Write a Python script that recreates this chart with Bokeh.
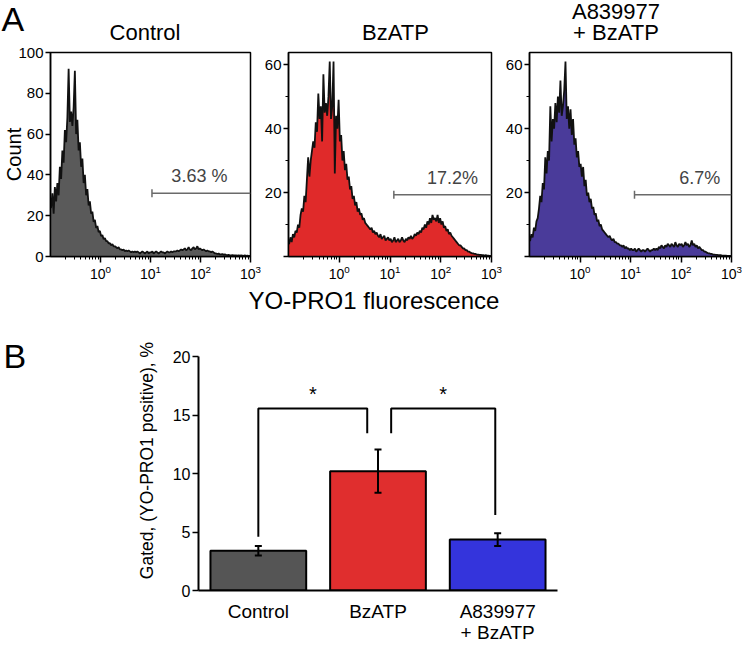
import numpy as np
from bokeh.plotting import figure
from bokeh.layouts import column, row
from bokeh.models import (Range1d, FixedTicker, LogTickFormatter, Label, Whisker,
                          TeeHead, ColumnDataSource)
from bokeh.embed import file_html
from bokeh.resources import INLINE

FONT = "Liberation Sans"

# ---------------- data: panel A (flow cytometry histograms) ----------------
hist_log_start = -1.0     # log10 of first channel edge
hist_log_step = 0.025     # log10 width of one channel

control_counts = [
    24, 31, 21, 34, 27, 36, 30, 44, 38, 52, 46, 62, 56, 68, 92, 66, 71, 64, 73, 91,
    60, 67, 52, 56, 44, 48, 36, 40, 30, 33, 25, 27, 21, 22, 17, 18, 14, 15, 12, 12.5,
    10, 10.5, 8.5, 9, 7.5, 7.5, 6.5, 6.5, 5.5, 6, 5, 5, 4.5, 4, 4.5, 3.5, 3.5, 3, 3.5, 2.5,
    3, 2.5, 3, 2.5, 2, 2.5, 2, 2.5, 2, 2.5, 2, 1.5, 2, 2.5, 2, 1.5, 2, 2.5, 1.5, 2,
    2, 2.5, 1.5, 2, 2.5, 2, 1.5, 2, 2.5, 2, 2, 1.5, 2, 2.5, 2, 2, 2.5, 2, 2.5, 2.5,
    2.5, 3, 2.5, 3, 3.5, 3, 3.5, 4, 3, 3.5, 4.5, 3.5, 3, 4, 4.5, 3.5, 4, 5, 3.5, 4,
    3.5, 3, 3.5, 3, 2.5, 3, 2.5, 2.5, 2, 2.5, 2, 1.5, 1.5, 1.2, 1.5, 1, 1, 1.2, 0.8, 1,
    0.8, 0.7, 0.8, 0.6, 0.6, 0.7, 0.5, 0.6, 0.5, 0.4, 0.6, 0.4, 0.5, 0.4, 0.3, 0.5, 0.3, 0.4, 0.3, 0.3,
]
bzatp_counts = [
    4, 6, 4.5, 7, 6, 8, 7.5, 10, 9, 13, 15, 14, 19, 17, 24, 31, 25, 30, 33, 36,
    34, 42, 39, 51, 43, 47, 36, 57, 45, 48, 44, 50, 61, 43, 47, 61, 26, 44, 40, 49,
    36, 38, 30, 33, 27, 29, 24, 25, 21, 22, 18, 19, 16, 17, 14, 15, 13, 13.5, 11.5, 12,
    10.5, 10, 9.5, 9, 8.5, 9, 7.5, 8, 7, 7.5, 6.5, 6, 7, 5.5, 6, 6.5, 5, 5.5, 6, 5,
    5.5, 4.5, 5, 6, 4.5, 5, 5.5, 4.5, 5, 6, 5, 4.5, 5.5, 5, 6, 5.5, 6.5, 5.5, 6, 7,
    6.5, 7.5, 7, 8, 7.5, 9, 8.5, 10, 9, 11, 10, 12, 10.5, 13, 11.5, 12, 11, 13, 10.5, 12,
    10, 11, 9, 9.5, 8, 8.5, 7, 7.5, 6.5, 6, 5.5, 5, 4.5, 4, 3.5, 3.5, 3, 2.5, 2.5, 2,
    2, 1.5, 1.5, 1.2, 1, 1, 0.8, 0.8, 0.6, 0.6, 0.5, 0.5, 0.4, 0.4, 0.3, 0.4, 0.3, 0.3, 0.2, 0.2,
]
a8_counts = [
    5, 7, 6, 9, 8, 11, 12, 15, 19, 17, 23, 21, 31, 26, 33, 30, 47, 36, 43, 40,
    48, 42, 50, 45, 55, 44, 47, 52, 61, 43, 47, 40, 46, 38, 43, 35, 37, 31, 33, 28,
    29, 25, 28, 22, 24, 19, 20, 17, 18, 15, 15.5, 13, 13.5, 11, 11.5, 9.5, 10, 8.5, 8, 7.5,
    7, 6.5, 6, 6.5, 5.5, 5, 5.5, 4.5, 4.5, 4, 4, 3.5, 3.5, 3, 3.5, 2.5, 3, 2.5, 2.5, 2,
    2.5, 2, 2, 2.5, 1.5, 2, 2.5, 2, 1.5, 2, 2, 1.5, 2, 2.5, 2, 1.5, 2, 2, 2.5, 2,
    2.5, 2, 3, 2.5, 3.5, 3, 2.5, 3.5, 3, 4, 3.5, 3, 4, 3.5, 3, 4.5, 3.5, 3, 4, 3.5,
    4, 3, 3.5, 4.5, 3.5, 4, 3, 3.5, 5, 3.5, 4, 3, 3.5, 2.5, 3, 2.5, 2, 2, 1.5, 1.5,
    1.2, 1, 1, 0.8, 0.8, 0.6, 0.6, 0.5, 0.5, 0.4, 0.4, 0.4, 0.3, 0.3, 0.3, 0.3, 0.2, 0.2, 0.2, 0.2,
]

panel_titles = [["Control"], ["BzATP"], ["A839977", "+ BzATP"]]
panel_colors = ["#5a5a5a", "#e02a2a", "#4a3b9a"]
count_max = [100, 63.8, 63.8]
count_ticks = [[0, 20, 40, 60, 80, 100], [0, 20, 40, 60], [0, 20, 40, 60]]
count_minor = [[], [10, 30, 50], [10, 30, 50]]
gate_start = [10.7, 11.9, 12.0]
gate_end = 1000
gate_level = [31, 19.3, 19.3]
gate_text = ["3.63 %", "17.2%", "6.7%"]
gate_text_x = [95, 170, 234]
log_major = [1, 10, 100, 1000]
log_minor = [k * 10.0 ** e for e in (-1, 0, 1, 2) for k in range(2, 10)]

# ---------------- data: panel B (bar chart) ----------------
groups = ["Control", "BzATP", "A839977\n+ BzATP"]
gated_mean = [3.4, 10.2, 4.35]
gated_err = [0.4, 1.85, 0.55]
bar_colors = ["#555555", "#e02e2e", "#3434dc"]
bracket_xs = [[0.5, 0.5, 1.41, 1.41], [1.61, 1.61, 2.48, 2.48]]
bracket_ys = [[4.6, 15.55, 15.55, 13.45], [13.45, 15.55, 15.55, 6.45]]
bracket_star_x = [0.955, 2.045]

BASE_SHIFT = 0.44  # measured offset (in em) of the rendered baseline below the anchor


def lab(p, x, y, text, size, xo=0, yo=0, align="left", angle=0.0, color="black"):
    if angle == 0.0:
        yo = yo + BASE_SHIFT * size
    else:
        xo = xo - BASE_SHIFT * size
    p.add_layout(Label(x=x, y=y, x_offset=xo, y_offset=yo, text=text,
                       text_font=FONT, text_font_size=f"{size}px", text_color=color,
                       text_align=align, text_baseline="alphabetic", angle=angle))


def text_fig(w, h):
    p = figure(width=w, height=h, x_range=Range1d(0, w), y_range=Range1d(0, h),
               x_axis_location=None, y_axis_location=None, toolbar_location=None,
               output_backend="svg", min_border=0)
    p.xgrid.visible = False
    p.ygrid.visible = False
    p.outline_line_color = None
    p.background_fill_color = "white"
    p.border_fill_color = "white"
    return p


def hist_fig(i, counts, width, bl, br):
    p = figure(width=width, height=237, x_axis_type="log",
               x_range=Range1d(0.1, 1000), y_range=Range1d(0, count_max[i]),
               toolbar_location=None, output_backend="svg",
               min_border_left=bl, min_border_right=br,
               min_border_top=7, min_border_bottom=26)
    p.xgrid.visible = False
    p.ygrid.visible = False
    p.outline_line_color = "black"
    p.outline_line_width = 1.5
    p.outline_line_alpha = 1.0
    p.background_fill_color = "white"
    p.border_fill_color = "white"

    n = len(counts)
    centers = 10 ** (hist_log_start + hist_log_step * (np.arange(n) + 0.5))
    xs = np.concatenate([[10 ** hist_log_start], centers,
                         [10 ** (hist_log_start + hist_log_step * n)]])
    ys = np.concatenate([[counts[0]], counts, [counts[-1]]])
    p.varea(x=xs, y1=0, y2=ys, fill_color=panel_colors[i])
    p.line(xs, ys, line_color="#111111", line_width=1.8)

    # gate marker
    p.line([gate_start[i], gate_end], [gate_level[i], gate_level[i]],
           line_color="#6a6a6a", line_width=1.5)
    p.scatter([gate_start[i]], [gate_level[i]], marker="dash", angle=np.pi / 2,
              size=8, line_color="#6a6a6a", line_width=1.5)
    lab(p, gate_text_x[i], gate_level[i], gate_text[i], 18, yo=9,
        align="center", color="#444444")

    xa = p.xaxis[0]
    xa.ticker = FixedTicker(ticks=log_major, minor_ticks=log_minor)
    xa.formatter = LogTickFormatter()
    xa.major_tick_out = 6
    xa.major_tick_in = 0
    xa.minor_tick_out = 3
    xa.minor_tick_in = 0
    xa.axis_line_width = 1.5
    xa.major_tick_line_width = 1.5
    xa.minor_tick_line_width = 1
    xa.major_label_standoff = 2
    xa.major_label_text_font = FONT
    xa.major_label_text_font_size = "14px"
    xa.major_label_text_color = "black"

    ya = p.yaxis[0]
    ya.ticker = FixedTicker(ticks=count_ticks[i], minor_ticks=count_minor[i])
    if i > 0:
        ya.major_label_overrides = {0: ""}
    ya.major_tick_out = 5
    ya.major_tick_in = 0
    ya.minor_tick_out = 3
    ya.minor_tick_in = 0
    ya.axis_line_width = 1.5
    ya.major_tick_line_width = 1.5
    ya.major_label_standoff = 2
    ya.major_label_text_font = FONT
    ya.major_label_text_font_size = "15px"
    ya.major_label_text_color = "black"
    return p


# ---------------- panel A ----------------
top = text_fig(742, 45)
lab(top, 1, 11.5, "A", 34)
lab(top, 144.5, 3.5, panel_titles[0][0], 22, align="center")
lab(top, 395, 3.5, panel_titles[1][0], 22, align="center")
lab(top, 615.5, 24, panel_titles[2][0], 22, align="center")
lab(top, 615.5, 3.5, panel_titles[2][1], 22, align="center")

f1 = hist_fig(0, control_counts, 261, 48, 11)
f2 = hist_fig(1, bzatp_counts, 241, 25, 11)
f3 = hist_fig(2, a8_counts, 240, 25, 11)
f1.yaxis[0].axis_label = "Count"
f1.yaxis[0].axis_label_text_font = FONT
f1.yaxis[0].axis_label_text_font_size = "20px"
f1.yaxis[0].axis_label_text_font_style = "normal"
f1.yaxis[0].axis_label_text_color = "black"
f1.yaxis[0].axis_label_standoff = -10

mid = text_fig(742, 40)
lab(mid, 373.5, 11, "YO-PRO1 fluorescence", 24, align="center")

# ---------------- panel B ----------------
side = text_fig(165, 323)
lab(side, 3, 275, "B", 34)
lab(side, 154.5, 185, "Gated, (YO-PRO1 positive), %", 17.5, align="center",
    angle=np.pi / 2)

bar_x = [k + 0.5 for k in range(len(groups))]
pB = figure(width=577, height=323, x_range=Range1d(0, 3), y_range=Range1d(0, 20),
            toolbar_location=None, output_backend="svg",
            min_border_left=33, min_border_right=185,
            min_border_top=34, min_border_bottom=54)
pB.xgrid.visible = False
pB.ygrid.visible = False
pB.outline_line_color = None
pB.background_fill_color = "white"
pB.border_fill_color = "white"

src = ColumnDataSource(dict(
    x=bar_x, top=gated_mean, color=bar_colors,
    upper=[m + e for m, e in zip(gated_mean, gated_err)],
    lower=[m - e for m, e in zip(gated_mean, gated_err)],
))
pB.vbar(x="x", top="top", bottom=0, width=0.8, fill_color="color",
        line_color="black", line_width=2, source=src)
pB.add_layout(Whisker(base="x", upper="upper", lower="lower", source=src,
                      line_color="black", line_width=2, level="overlay",
                      upper_head=TeeHead(size=7, line_width=2, line_color="black"),
                      lower_head=TeeHead(size=7, line_width=2, line_color="black")))
pB.multi_line(xs=bracket_xs, ys=bracket_ys, line_color="black", line_width=2)
for sx in bracket_star_x:
    lab(pB, sx, 15.55, "*", 20, yo=6, align="center")

xb = pB.xaxis[0]
xb.ticker = FixedTicker(ticks=bar_x)
xb.major_label_overrides = {bx: g for bx, g in zip(bar_x, groups)}
xb.major_tick_out = 0
xb.major_tick_in = 0
xb.minor_tick_line_color = None
xb.axis_line_width = 2
xb.major_label_standoff = 10
xb.major_label_text_font = FONT
xb.major_label_text_font_size = "19px"
xb.major_label_text_color = "black"
xb.major_label_text_line_height = 1.0

yb = pB.yaxis[0]
yb.ticker = FixedTicker(ticks=[0, 5, 10, 15, 20])
yb.major_tick_out = 6
yb.major_tick_in = 0
yb.minor_tick_line_color = None
yb.axis_line_width = 2
yb.major_tick_line_width = 1.5
yb.major_label_standoff = 2
yb.major_label_text_font = FONT
yb.major_label_text_font_size = "16px"
yb.major_label_text_color = "black"

layout = column(top, row(f1, f2, f3), mid, row(column(side), pB))
open("out.html", "w").write(file_html(layout, INLINE))
